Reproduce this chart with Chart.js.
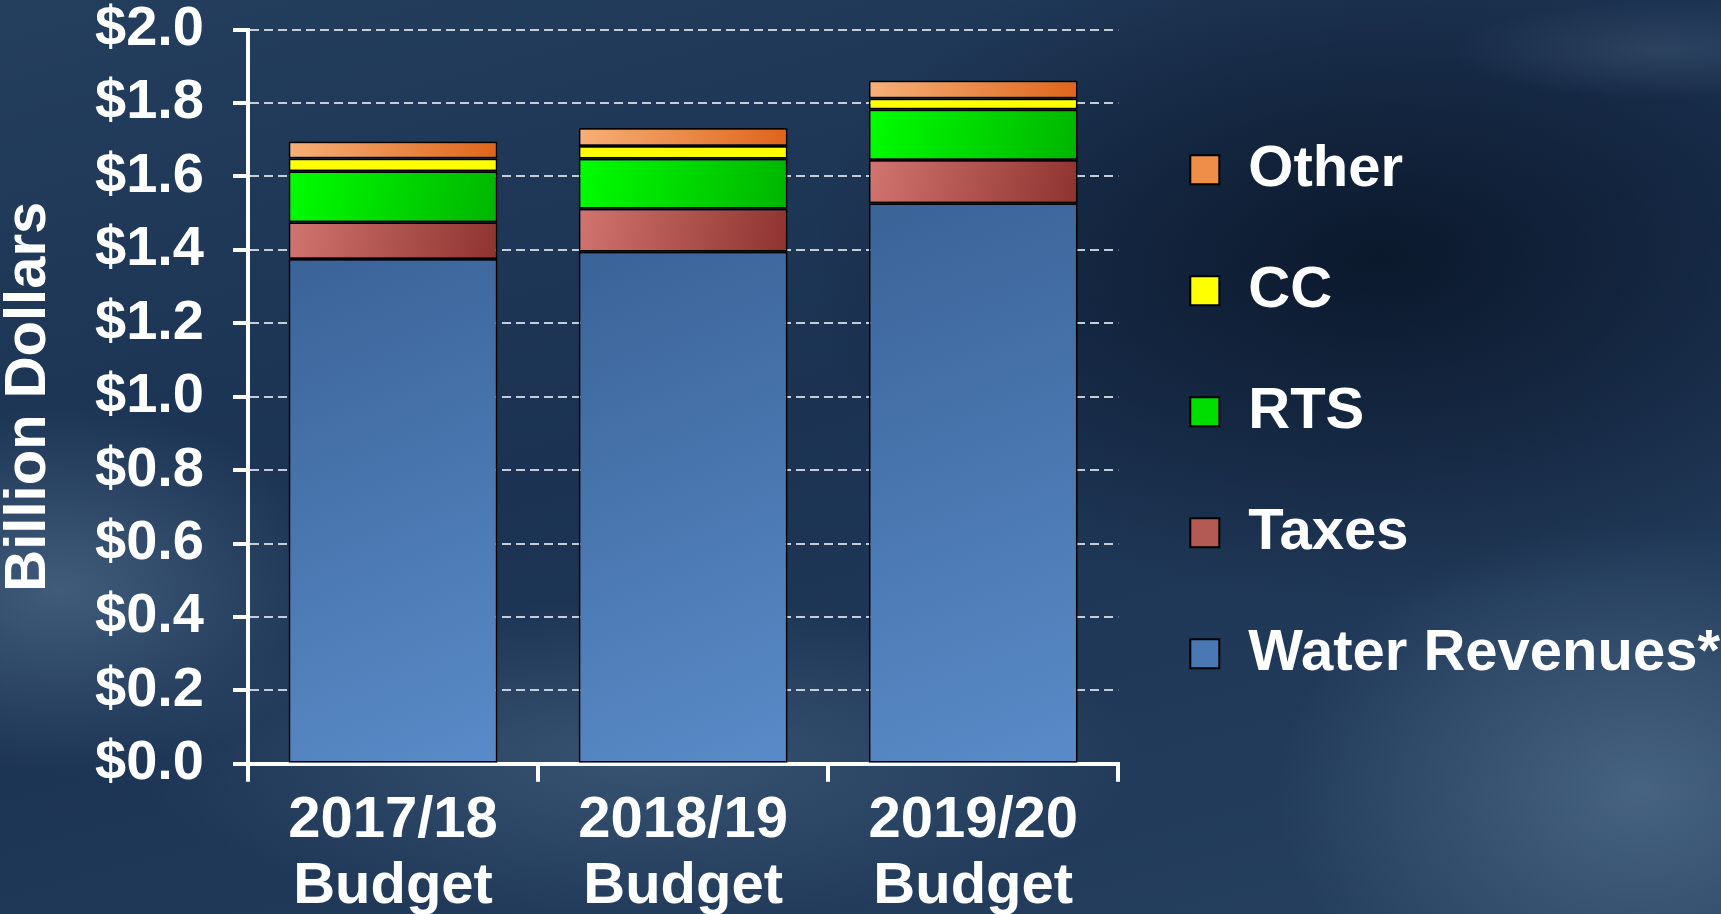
<!DOCTYPE html>
<html>
<head>
<meta charset="utf-8">
<title>Revenue sources by budget year</title>
<script src="https://cdn.jsdelivr.net/npm/chart.js@4/dist/chart.umd.min.js"></script>
<style>
  html, body { margin: 0; padding: 0; overflow: hidden; }
  body { background: #1b3150; }
  #wrap {
    position: relative;
    width: 1721px;
    height: 914px;
    background:
      radial-gradient(ellipse 420px 260px at 60px 590px, rgba(95,125,155,0.55), transparent 70%),
      radial-gradient(ellipse 720px 230px at 640px 760px, rgba(85,115,145,0.45), transparent 70%),
      radial-gradient(ellipse 520px 380px at 1640px 790px, rgba(100,130,160,0.55), transparent 70%),
      radial-gradient(ellipse 300px 70px at 1660px 50px, rgba(80,105,135,0.35), transparent 70%),
      radial-gradient(ellipse 800px 480px at 1380px 260px, rgba(6,16,32,0.75), transparent 72%),
      linear-gradient(165deg, #243e5e 0%, #1b3252 45%, #26405f 100%);
  }
</style>
</head>
<body>
<div id="wrap"><canvas id="chart"></canvas></div>
<script>
// ---- data (billion dollars) ----
const CATEGORIES = [['2017/18', 'Budget'], ['2018/19', 'Budget'], ['2019/20', 'Budget']];
const WATER = [1.375, 1.395, 1.527];
const TAXES = [0.100, 0.117, 0.118];
const RTS   = [0.139, 0.136, 0.137];
const CC    = [0.035, 0.035, 0.030];
const OTHER = [0.046, 0.049, 0.049];
const Y_MIN = 0, Y_MAX = 2, Y_STEP = 0.2;

// ---- look ----
const FONT_FAMILY = '"Liberation Sans", Arial, Helvetica, sans-serif';
const BAR_PCT = 0.72;
const LEGEND_DX = 9, LEGEND_DY = 15;
// flat swatch colours for the legend (bars get a diagonal shade)
const LEGEND_FILL = ['#4a78b4', '#b45a55', '#00dd00', '#ffff00', '#ee8e48'];

Chart.defaults.color = '#ffffff';
Chart.defaults.font.family = FONT_FAMILY;
Chart.defaults.font.weight = 'bold';

// diagonal shading per segment: light top-left, dark bottom-right
function segmentFill(from, to, flat) {
  return function (c) {
    const chart = c.chart;
    const xs = chart.scales.x, ys = chart.scales.y;
    if (c.type !== 'data' || !xs || !ys || !chart.chartArea) return flat;
    let base = 0;
    for (let d = 0; d < c.datasetIndex; d++) base += chart.data.datasets[d].data[c.dataIndex];
    const top = base + c.raw;
    const half = (xs.width / CATEGORIES.length) * BAR_PCT / 2;
    const cx = xs.getPixelForValue(c.dataIndex);
    const g = chart.ctx.createLinearGradient(cx - half, ys.getPixelForValue(top), cx + half, ys.getPixelForValue(base));
    g.addColorStop(0, from);
    g.addColorStop(1, to);
    return g;
  };
}

function series(label, data, fill) {
  return {
    label: label,
    data: data,
    backgroundColor: fill,
    borderColor: '#000000',
    borderWidth: 1.75,
    borderSkipped: false,
    barPercentage: BAR_PCT,
    categoryPercentage: 1,
  };
}

// nudge the legend block so it sits where the original one does
const legendNudge = {
  id: 'legendNudge',
  afterLayout(chart) {
    const l = chart.legend;
    if (!l) return;
    l.left += LEGEND_DX; l.right += LEGEND_DX;
    l.top += LEGEND_DY;  l.bottom += LEGEND_DY;
  }
};

new Chart(document.getElementById('chart'), {
  type: 'bar',
  data: {
    labels: CATEGORIES,
    datasets: [
      series('Water Revenues*', WATER, segmentFill('#3a6398', '#5a8bc8', LEGEND_FILL[0])),
      series('Taxes',           TAXES, segmentFill('#d2746f', '#8e332f', LEGEND_FILL[1])),
      series('RTS',             RTS,   segmentFill('#00ff00', '#00b400', LEGEND_FILL[2])),
      series('CC',              CC,    LEGEND_FILL[3]),
      series('Other',           OTHER, segmentFill('#f7b078', '#df641a', LEGEND_FILL[4])),
    ],
  },
  plugins: [legendNudge],
  options: {
    responsive: true,
    maintainAspectRatio: false,
    animation: false,
    layout: { padding: { top: 0, right: 0, bottom: -12, left: 0 } },
    plugins: {
      tooltip: { enabled: false },
      legend: {
        position: 'right',
        fullSize: false,
        reverse: true,
        maxWidth: 640,
        labels: {
          color: '#ffffff',
          font: { size: 58, weight: 'bold', family: FONT_FAMILY },
          boxWidth: 29,
          boxHeight: 29,
          padding: 63,
          generateLabels: function (chart) {
            const items = Chart.defaults.plugins.legend.labels.generateLabels(chart);
            items.forEach(function (it) {
              it.fillStyle = LEGEND_FILL[it.datasetIndex];
              it.lineWidth = 2;
            });
            return items;
          },
        },
      },
    },
    scales: {
      x: {
        stacked: true,
        grid: {
          offset: true,
          drawOnChartArea: false,
          drawTicks: true,
          tickLength: 18,
          tickColor: '#ffffff',
          tickWidth: 4,
          lineWidth: 4,
        },
        border: { color: '#ffffff', width: 4 },
        ticks: {
          color: '#ffffff',
          padding: 6,
          maxRotation: 0,
          font: { size: 58, weight: 'bold', lineHeight: 1.14 },
        },
      },
      y: {
        stacked: true,
        min: Y_MIN,
        max: Y_MAX,
        grid: {
          color: 'rgba(215,222,230,0.9)',
          lineWidth: 2,
          tickLength: 15,
          tickColor: '#ffffff',
          tickWidth: 4,
          tickBorderDash: [],
        },
        border: { color: '#ffffff', width: 4, dash: [9, 5] },
        ticks: {
          stepSize: Y_STEP,
          padding: 29,
          color: '#ffffff',
          font: { size: 56, weight: 'bold', lineHeight: 0.02 },
          callback: function (v) { return '$' + Number(v).toFixed(1); },
        },
        title: {
          display: true,
          text: 'Billion Dollars',
          color: '#ffffff',
          padding: { top: 0, bottom: 8 },
          font: { size: 58, weight: 'bold', lineHeight: 1 },
        },
      },
    },
  },
});
</script>
</body>
</html>
